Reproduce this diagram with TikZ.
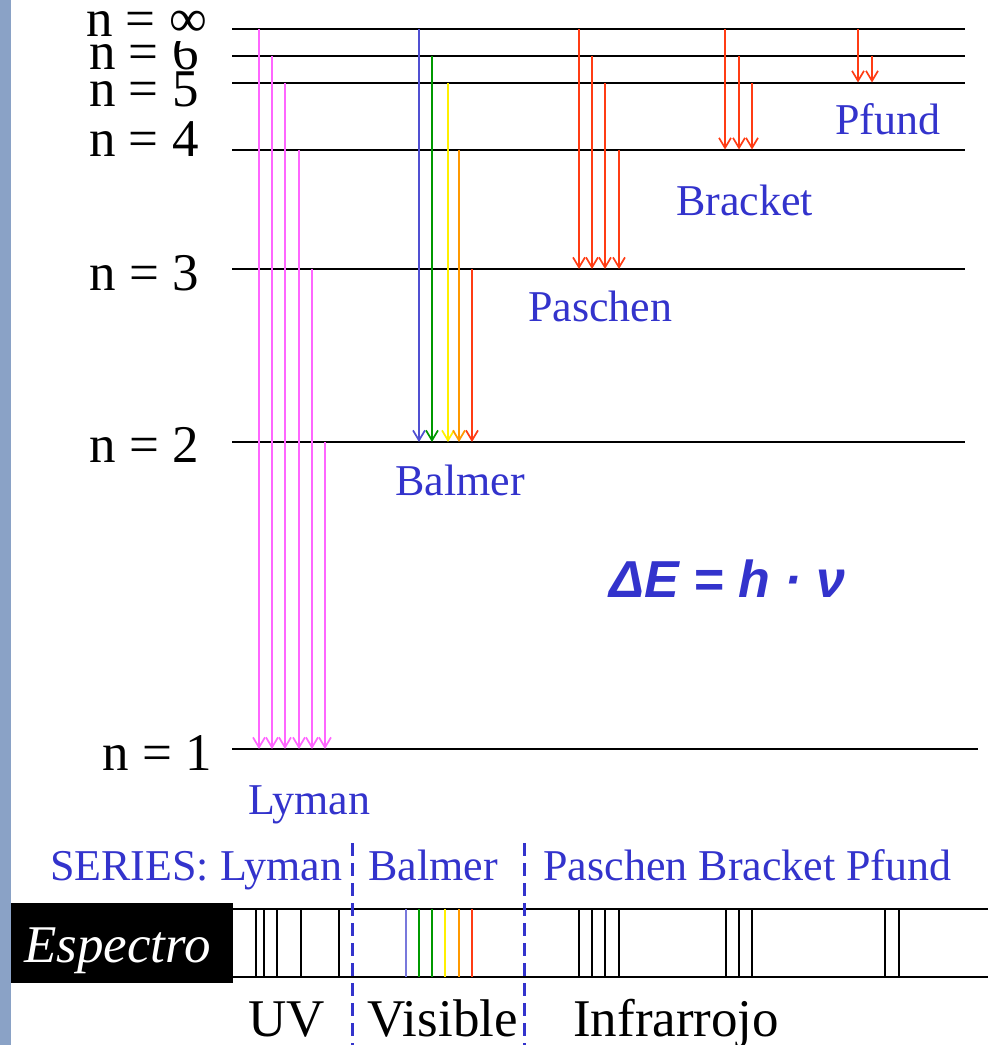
\documentclass[tikz,border=0pt]{standalone}
\usepackage{fontspec}
\setmainfont{Liberation Serif}
\newfontfamily\eqfont{Liberation Sans}
\usetikzlibrary{arrows.meta}
\definecolor{sidebar}{RGB}{138,162,198}
\definecolor{lblue}{RGB}{51,51,204}
\definecolor{lypink}{RGB}{255,102,255}
\definecolor{bblue}{RGB}{80,80,210}
\definecolor{bgreen}{RGB}{0,153,0}
\definecolor{byellow}{RGB}{255,240,0}
\definecolor{borange}{RGB}{255,153,0}
\definecolor{bred}{RGB}{255,60,20}
\definecolor{slav}{RGB}{120,120,220}
\tikzset{
  level/.style={line width=2pt, black},
  trans/.style={line width=1.7pt, -{Straight Barb[length=10pt,width=12pt,line width=1.7pt]}},
  lvl/.style={anchor=base west, inner sep=0pt, font=\fontsize{53}{60}\selectfont},
  ser/.style={anchor=base west, inner sep=0pt, text=lblue, font=\fontsize{44}{50}\selectfont},
  band/.style={line width=1.8pt, black},
  sline/.style={line width=1.5pt},
  divider/.style={line width=3pt, lblue, dash pattern=on 13pt off 7pt}
}
\begin{document}
\begin{tikzpicture}[x=1pt,y=-1pt]
\useasboundingbox (0,0) rectangle (988,1045);
\fill[sidebar] (0,0) rectangle (11,1045);

% energy levels
\foreach \n/\y in {inf/29,6/56,5/82.5,4/149.5,3/269,2/442} {
  \coordinate (L\n) at (232,\y);
  \coordinate (R\n) at (965,\y);
  \draw[level] (L\n) -- (R\n);
}
\coordinate (L1) at (232,749);
\coordinate (R1) at (978,749);
\draw[level] (L1) -- (R1);

% level labels
\node[lvl] (n1) at (102.7,770) {n = 1};
\node[lvl] (n2) at (89.3,462.7) {n = 2};
\node[lvl] (n3) at (89.3,290) {n = 3};
\node[lvl] (n4) at (89,156) {n = 4};
\node[lvl] (n5) at (89,106) {n = 5};
\node[lvl] (n6) at (89,69.5) {n = 6};
\node[lvl, fill=white, text depth=5pt] (ninf) at (86,36) {n = ∞};

% Lyman
\foreach \x/\a in {259/inf,272/6,285/5,299/4,312/3,325/2}
  \draw[trans, lypink] (\x,0 |- L\a) -- (\x,0 |- L1);
% Balmer
\foreach \x/\a/\c in {419/inf/bblue,432/6/bgreen,448/5/byellow,459/4/borange,472/3/bred}
  \draw[trans, \c] (\x,0 |- L\a) -- (\x,0 |- L2);
% Paschen
\foreach \x/\a in {579/inf,592/6,605/5,619/4}
  \draw[trans, bred] (\x,0 |- L\a) -- (\x,0 |- L3);
% Bracket
\foreach \x/\a in {725/inf,739/6,752/5}
  \draw[trans, bred] (\x,0 |- L\a) -- (\x,0 |- L4);
% Pfund
\foreach \x/\a in {858/inf,872/6}
  \draw[trans, bred] (\x,0 |- L\a) -- (\x,0 |- L5);

% series labels
\node[ser] (pfund) at (835,134) {Pfund};
\node[ser] (bracket) at (676,215) {Bracket};
\node[ser] (paschen) at (528,321) {Paschen};
\node[ser] (balmer) at (395,495) {Balmer};
\node[ser] (lyman) at (248,814) {Lyman};

% equation
\node[anchor=base west, inner sep=0pt, text=lblue, font=\eqfont\bfseries\itshape\fontsize{52}{60}\selectfont] (eq) at (609,597) {ΔE = h · ν};

% series row
\node[ser] (sLy) at (50,880.5) {SERIES: Lyman};
\node[ser] (sBa) at (368.3,880.5) {Balmer};
\node[ser] (sIR) at (543.3,880.5) {Paschen Bracket Pfund};

% spectrum
\node[fill=black, inner sep=0pt, minimum width=222pt, minimum height=80pt, anchor=north west] (spbox) at (11,903) {};
\node[anchor=base west, inner sep=0pt, text=white, font=\itshape\fontsize{53}{60}\selectfont] (esp) at (24,962.7) {Espectro};
\coordinate (bT) at (233,909.3);
\coordinate (bTe) at (988,909.3);
\coordinate (bB) at (233,976.7);
\coordinate (bBe) at (988,976.7);
\draw[band] (bT) -- (bTe);
\draw[band] (bB) -- (bBe);
\foreach \x in {256,264,277,301,339,579,592,605,619,726,739,752,885,899}
  \draw[sline, black] (\x,0 |- bT) -- (\x,0 |- bB);
\foreach \x/\c in {406/slav,419/bgreen,432/bgreen,445/byellow,459/borange,472/bred}
  \draw[sline, \c] (\x,0 |- bT) -- (\x,0 |- bB);

% dividers
\coordinate (d1t) at (352,843);
\coordinate (d1b) at (352,1045);
\coordinate (d2t) at (524.5,843);
\coordinate (d2b) at (524.5,1045);
\draw[divider] (d1t) -- (d1b);
\draw[divider] (d2t) -- (d2b);

% region labels
\node[lvl] (uv) at (248,1036.7) {UV};
\node[lvl] (vis) at (367.7,1036.7) {Visible};
\node[lvl] (ir) at (573,1036.7) {Infrarrojo};
\end{tikzpicture}
\end{document}
